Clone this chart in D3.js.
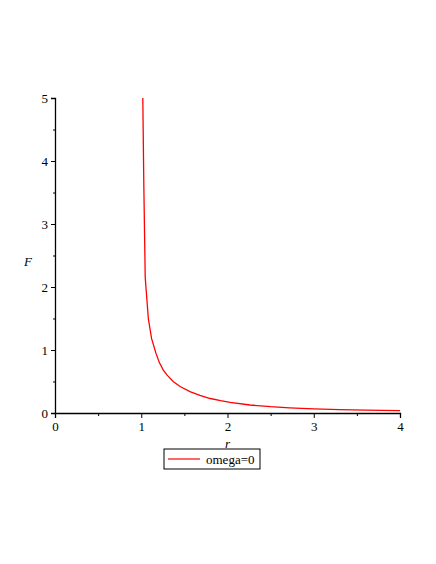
<!DOCTYPE html>
<html>
<head>
<meta charset="utf-8">
<script src="https://cdnjs.cloudflare.com/ajax/libs/d3/7.8.5/d3.min.js"></script>
<style>
  body { margin: 0; background: #fff; }
  svg { display: block; }
  svg text { font-family: "Times New Roman", "Liberation Serif", "DejaVu Serif", serif !important; }
</style>
</head>
<body>
<svg id="chart"></svg>
<script>
// values
const rValues = [1.018, 1.03, 1.04, 1.046, 1.082, 1.12, 1.17, 1.21, 1.256, 1.3, 1.37, 1.45, 1.565, 1.68, 1.8, 1.92, 2.03, 2.26, 2.5, 2.72, 3.0, 3.3, 3.6, 4.0];
const fValues = [5.0, 3.6, 2.7, 2.15, 1.5, 1.18, 0.95, 0.8, 0.68, 0.6, 0.5, 0.42, 0.34, 0.28, 0.23, 0.195, 0.17, 0.127, 0.1, 0.082, 0.066, 0.055, 0.046, 0.038];
const xTicks = [0, 1, 2, 3, 4];
const yTicks = [0, 1, 2, 3, 4, 5];
const seriesName = "omega=0";

const width = 436, height = 564;
const margin = { top: 98, left: 55 };
const plotW = 345, plotH = 315;

const svg = d3.select("#chart")
    .attr("width", width)
    .attr("height", height);

const g = svg.append("g")
    .attr("transform", `translate(${margin.left},${margin.top})`);

const x = d3.scaleLinear().domain([0, 4]).range([0, plotW]);
const y = d3.scaleLinear().domain([0, 5]).range([plotH, 0]);

const points = rValues.map((r, i) => ({ r: r, f: fValues[i] }));

// curve
g.append("path")
    .datum(points)
    .attr("fill", "none")
    .attr("stroke", "#ff0000")
    .attr("stroke-width", 1.3)
    .attr("d", d3.line().x(d => x(d.r)).y(d => y(d.f)));

// minor ticks
const xMinor = d3.range(0.5, 4, 1);
const yMinor = d3.range(0.5, 5, 1);

g.append("g")
    .attr("transform", `translate(0,${plotH})`)
    .call(d3.axisBottom(x).tickValues(xTicks).tickSize(5).tickPadding(4).tickFormat(d3.format("d")));
g.append("g")
    .attr("transform", `translate(0,${plotH})`)
    .call(d3.axisBottom(x).tickValues(xMinor).tickSize(3).tickFormat(""))
    .select(".domain").remove();

g.append("g")
    .call(d3.axisLeft(y).tickValues(yTicks).tickSize(4).tickPadding(3).tickFormat(d3.format("d")));
g.append("g")
    .call(d3.axisLeft(y).tickValues(yMinor).tickSize(2).tickFormat(""))
    .select(".domain").remove();

g.selectAll(".domain").attr("stroke", "#000").attr("stroke-width", 1.3);
g.selectAll(".tick line").attr("stroke", "#000");
g.selectAll(".tick text")
    .attr("font-size", 13)
    .attr("fill", "#000");

// axis titles
g.append("text")
    .attr("x", x(2))
    .attr("y", plotH + 35)
    .attr("text-anchor", "middle")
    .attr("font-style", "italic")
    .attr("font-size", 13)
    .text("r");

g.append("text")
    .attr("x", -27)
    .attr("y", y(2.4) + 4)
    .attr("text-anchor", "middle")
    .attr("font-style", "italic")
    .attr("font-size", 13)
    .text("F");

// legend
const legend = svg.append("g").attr("transform", "translate(164,449)");
legend.append("rect")
    .attr("width", 96)
    .attr("height", 20)
    .attr("fill", "#fff")
    .attr("stroke", "#000")
    .attr("stroke-width", 1);
legend.append("line")
    .attr("x1", 4).attr("x2", 36)
    .attr("y1", 10).attr("y2", 10)
    .attr("stroke", "#ff0000")
    .attr("stroke-width", 1.2);
legend.append("text")
    .attr("x", 42)
    .attr("y", 14.5)
    .attr("font-size", 13)
    .text(seriesName);
</script>
</body>
</html>
